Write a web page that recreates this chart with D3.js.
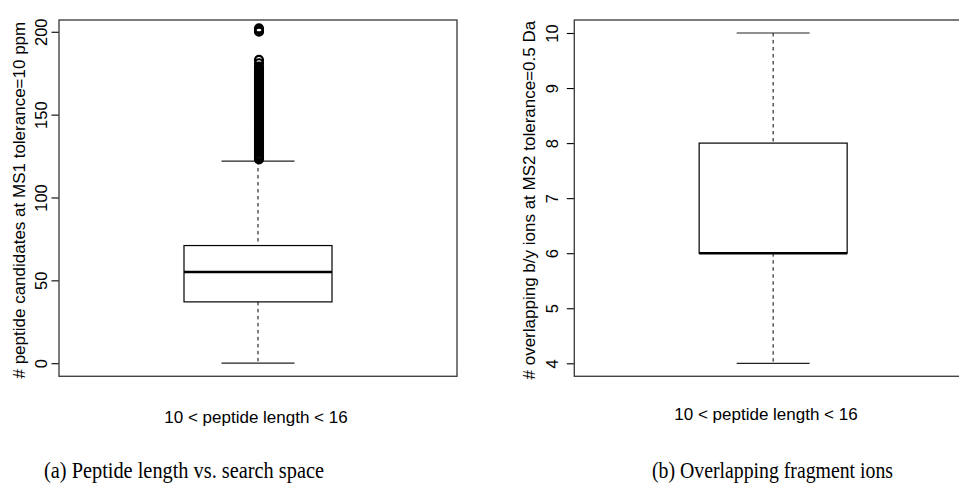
<!DOCTYPE html>
<html>
<head>
<meta charset="utf-8">
<script src="https://cdn.jsdelivr.net/npm/d3@7"></script>
<style>
  body { margin: 0; background: #fff; }
  svg { display: block; }
  .tick text { font-family: "Liberation Sans", Arial, sans-serif; }
</style>
</head>
<body>
<svg id="chart" width="959" height="497"></svg>
<script>
// box stats: lower whisker, Q1, median, Q3, upper whisker
const groupLabels = ['10 < peptide length < 16'];
const candidateStats = [0, 37, 55, 71, 122];
const candidateOutliers = [123, 124, 125, 126, 127, 128, 129, 130, 131, 132, 133, 134, 135, 136, 137, 138,
    139, 140, 141, 142, 143, 144, 145, 146, 147, 148, 149, 150, 151, 152, 153, 154, 155, 156, 157, 158,
    159, 160, 161, 162, 163, 164, 165, 166, 167, 168, 169, 170, 171, 172, 173, 174, 175, 176, 177, 178,
    179, 181, 183, 200, 201, 202];
const candidateTicks = [0, 50, 100, 150, 200];
const ionStats = [4, 6, 6, 8, 10];
const ionOutliers = [];
const ionTicks = [4, 5, 6, 7, 8, 9, 10];

const svg = d3.select('#chart');

/**
 * Draws one R-style boxplot panel
 */
function drawPanel(cfg) {
    const g = svg.append('g');

    const x = d3.scalePoint().domain(groupLabels).range([cfg.left, cfg.right]).padding(0.5);
    const y = d3.scaleLinear().domain(cfg.domain).range([cfg.bottom, cfg.top]);

    const [lo, q1, med, q3, hi] = cfg.stats;
    const cx = x(groupLabels[0]);
    const boxW = 148, capW = 73;

    // whiskers
    g.selectAll('line.whisker')
        .data([[hi, q3], [q1, lo]])
        .enter().append('line')
        .attr('x1', cx).attr('x2', cx)
        .attr('y1', d => y(d[0])).attr('y2', d => y(d[1]))
        .attr('stroke', '#000')
        .attr('stroke-width', 1)
        .attr('stroke-dasharray', '3.5,3.5');

    g.selectAll('line.cap')
        .data([lo, hi])
        .enter().append('line')
        .attr('x1', cx - capW / 2).attr('x2', cx + capW / 2)
        .attr('y1', d => y(d)).attr('y2', d => y(d))
        .attr('stroke', '#222')
        .attr('stroke-width', 1.2);

    g.append('rect')
        .attr('x', cx - boxW / 2)
        .attr('y', y(q3))
        .attr('width', boxW)
        .attr('height', y(q1) - y(q3))
        .attr('fill', '#fff')
        .attr('stroke', '#000')
        .attr('stroke-width', 1.2);

    g.append('line')
        .attr('x1', cx - boxW / 2).attr('x2', cx + boxW / 2)
        .attr('y1', y(med)).attr('y2', y(med))
        .attr('stroke', '#000')
        .attr('stroke-width', 2.6);

    g.selectAll('circle.outlier')
        .data(cfg.outliers)
        .enter().append('circle')
        .attr('cx', cx + 1)
        .attr('cy', d => y(d))
        .attr('r', 4)
        .attr('fill', 'none')
        .attr('stroke', '#000')
        .attr('stroke-width', 2.2);

    // y axis, labels rotated like R's default las=0
    const axis = g.append('g')
        .attr('transform', `translate(${cfg.left},0)`)
        .call(d3.axisLeft(y).tickValues(cfg.ticks).tickSize(7.5).tickFormat(d3.format('d')));
    axis.select('.domain').remove();
    axis.selectAll('.tick line').attr('stroke', '#000').attr('stroke-width', 1.1);
    axis.selectAll('.tick text')
        .attr('x', 0).attr('dy', 0)
        .attr('text-anchor', 'middle')
        .attr('fill', '#000')
        .attr('font-size', 16.5)
        .attr('transform', `translate(${-cfg.tickOffset},0) rotate(-90)`);

    // frame
    g.append('rect')
        .attr('x', cfg.left).attr('y', cfg.top)
        .attr('width', cfg.right - cfg.left)
        .attr('height', cfg.bottom - cfg.top)
        .attr('fill', 'none')
        .attr('stroke', '#444')
        .attr('stroke-width', 1.4);

    g.append('text')
        .attr('transform', `translate(${cfg.left - cfg.titleOffset},${(cfg.top + cfg.bottom) / 2 + 2}) rotate(-90)`)
        .attr('text-anchor', 'middle')
        .attr('font-family', '"Liberation Sans", Arial, sans-serif')
        .attr('font-size', 17)
        .text(cfg.yTitle);

    g.append('text')
        .attr('x', cfg.xLabelX).attr('y', cfg.xLabelY)
        .attr('text-anchor', 'middle')
        .attr('font-family', '"Liberation Sans", Arial, sans-serif')
        .attr('font-size', 17)
        .text(groupLabels[0]);

    g.append('text')
        .attr('x', cfg.captionX).attr('y', 478)
        .attr('font-family', '"Liberation Serif", "Times New Roman", serif')
        .attr('font-size', 22.5)
        .attr('textLength', cfg.captionW)
        .attr('lengthAdjust', 'spacingAndGlyphs')
        .text(cfg.caption);
}

drawPanel({
    left: 59, right: 457, top: 20, bottom: 376.3,
    domain: [-7.9, 207.1],
    stats: candidateStats, outliers: candidateOutliers, ticks: candidateTicks,
    tickOffset: 12.5, titleOffset: 34,
    yTitle: '# peptide candidates at MS1 tolerance=10 ppm',
    xLabelX: 256, xLabelY: 422.7,
    caption: '(a) Peptide length vs. search space', captionX: 44, captionW: 280
});

drawPanel({
    left: 574.3, right: 972, top: 20, bottom: 376.3,
    domain: [3.764, 10.236],
    stats: ionStats, outliers: ionOutliers, ticks: ionTicks,
    tickOffset: 16, titleOffset: 39.5,
    yTitle: '# overlapping b/y ions at MS2 tolerance=0.5 Da',
    xLabelX: 766, xLabelY: 420,
    caption: '(b) Overlapping fragment ions', captionX: 652, captionW: 241
});
</script>
</body>
</html>
